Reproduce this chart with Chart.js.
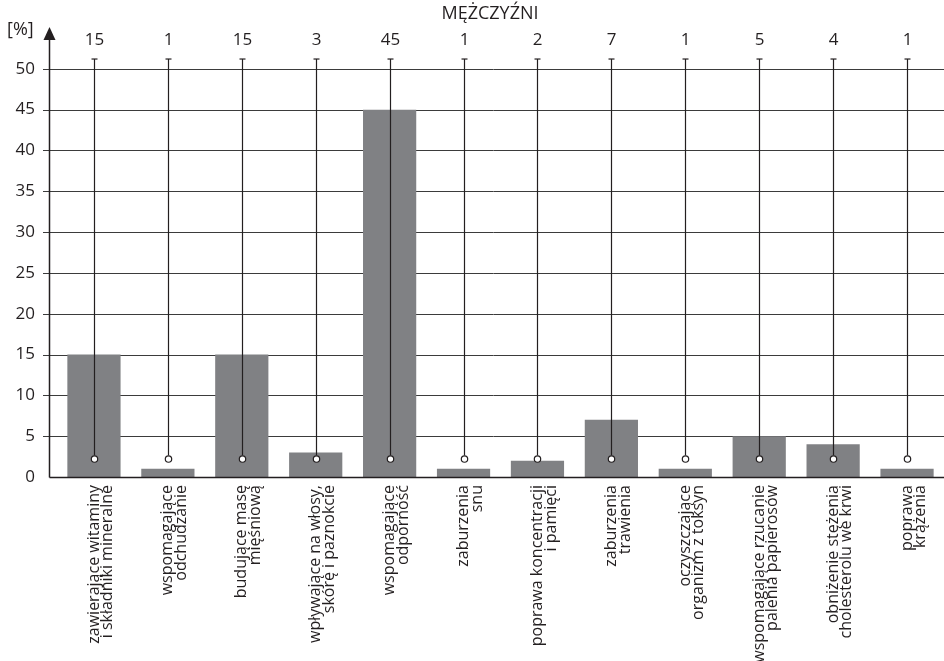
<!DOCTYPE html>
<html>
<head>
<meta charset="utf-8">
<script src="https://cdn.jsdelivr.net/npm/chart.js@4"></script>
<style>
  html, body { margin: 0; padding: 0; background: #fff; }
  #wrap { width: 944px; height: 661px; }
</style>
</head>
<body>
<div id="wrap"><canvas id="c" width="944" height="661"></canvas></div>
<script>
// Categories (two-line labels, drawn rotated under the axis)
const categories = [
  ['zawierające witaminy', 'i składniki mineralne'],
  ['wspomagające', 'odchudzanie'],
  ['budujące masę', 'mięśniową'],
  ['wpływające na włosy,', 'skórę i paznokcie'],
  ['wspomagające', 'odporność'],
  ['zaburzenia', 'snu'],
  ['poprawa koncentracji', 'i pamięci'],
  ['zaburzenia', 'trawienia'],
  ['oczyszczające', 'organizm z toksyn'],
  ['wspomagające rzucanie', 'palenia papierosów'],
  ['obniżenie stężenia', 'cholesterolu we krwi'],
  ['poprawa', 'krążenia']
];

// Share of answers, percent
const values = [15, 1, 15, 3, 45, 1, 2, 7, 1, 5, 4, 1];

// Y axis range and ticks
const yMin = 0;
const yMax = 55;
const yStep = 5;
const yTickMax = 50;

// Stem span (in axis units) for the marker lines above each bar
const stemTop = 51.2;
const stemBase = 2.2;
const valueLabelLevel = 53.5;

const title = 'MĘŻCZYŹNI';
const unitLabel = '[%]';

const FONT = '"Open Sans", "DejaVu Sans", sans-serif';
const INK = '#231f20';

const overlay = {
  id: 'overlay',
  beforeDatasetsDraw(chart) {
    const { ctx, chartArea } = chart;
    const y = chart.scales.y;
    const axisX = chartArea.left - 8;
    ctx.save();
    // horizontal grid lines (behind bars)
    ctx.strokeStyle = '#3b3b3b';
    ctx.lineWidth = 1;
    y.ticks.forEach(t => {
      if (t.value <= 0) return;
      const py = Math.round(y.getPixelForValue(t.value)) + 0.5;
      ctx.beginPath();
      ctx.moveTo(axisX - 6, py);
      ctx.lineTo(chartArea.right, py);
      ctx.stroke();
    });
    ctx.restore();
  },
  afterDatasetsDraw(chart) {
    const { ctx, chartArea } = chart;
    const x = chart.scales.x;
    const y = chart.scales.y;
    const axisX = Math.round(chartArea.left - 8) + 0.5;
    const zeroY = Math.round(y.getPixelForValue(0)) + 0.5;
    ctx.save();

    // x axis line
    ctx.strokeStyle = INK;
    ctx.lineWidth = 1.5;
    ctx.beginPath();
    ctx.moveTo(axisX, zeroY);
    ctx.lineTo(chartArea.right, zeroY);
    ctx.stroke();

    // y axis with arrow head
    const tipY = y.getPixelForValue(yMax) - 1;
    const baseY = tipY + 13;
    ctx.beginPath();
    ctx.moveTo(axisX, zeroY);
    ctx.lineTo(axisX, baseY);
    ctx.stroke();
    ctx.fillStyle = INK;
    ctx.beginPath();
    ctx.moveTo(axisX, tipY);
    ctx.lineTo(axisX - 6, baseY);
    ctx.lineTo(axisX + 6, baseY);
    ctx.closePath();
    ctx.fill();

    // stems with cap and open circle, value labels on top
    const topPx = y.getPixelForValue(stemTop);
    const basePx = y.getPixelForValue(stemBase);
    const labelPx = y.getPixelForValue(valueLabelLevel);
    ctx.font = '17px ' + FONT;
    ctx.textAlign = 'center';
    ctx.textBaseline = 'middle';
    values.forEach((v, i) => {
      const px = Math.round(x.getPixelForValue(i)) + 0.5;
      ctx.strokeStyle = INK;
      ctx.lineWidth = 1.2;
      ctx.beginPath();
      ctx.moveTo(px, topPx);
      ctx.lineTo(px, basePx - 3.5);
      ctx.stroke();
      ctx.beginPath();
      ctx.moveTo(px - 3, topPx);
      ctx.lineTo(px + 3, topPx);
      ctx.stroke();
      ctx.beginPath();
      ctx.arc(px, basePx, 3.2, 0, Math.PI * 2);
      ctx.fillStyle = '#fff';
      ctx.fill();
      ctx.stroke();
      ctx.fillStyle = INK;
      ctx.fillText(String(v), px, labelPx);
    });

    // title and unit
    ctx.font = '18px ' + FONT;
    ctx.fillText(title, 490, 14);
    ctx.textAlign = 'left';
    ctx.fillText(unitLabel, 7, 30);
    ctx.restore();
  }
};

new Chart(document.getElementById('c'), {
  type: 'bar',
  data: {
    labels: categories,
    datasets: [{
      data: values,
      backgroundColor: '#808184',
      borderWidth: 0,
      categoryPercentage: 1,
      barPercentage: 0.72
    }]
  },
  options: {
    responsive: false,
    animation: false,
    devicePixelRatio: 1,
    layout: { padding: { top: 28, right: 0, left: 0, bottom: 0 } },
    plugins: {
      legend: { display: false },
      tooltip: { enabled: false },
      title: { display: false }
    },
    scales: {
      x: {
        grid: { display: false, drawTicks: false },
        border: { display: false },
        ticks: {
          color: INK,
          font: { family: FONT, size: 16, lineHeight: 0.85 },
          minRotation: 90,
          maxRotation: 90,
          autoSkip: false,
          padding: 8
        },
        afterFit(scale) {
          scale.height = 184;
          scale.paddingLeft = 0;
          scale.paddingRight = 0;
        }
      },
      y: {
        min: yMin,
        max: yMax,
        grid: { display: false, drawTicks: false },
        border: { display: false },
        ticks: {
          stepSize: yStep,
          color: INK,
          font: { family: FONT, size: 17 },
          padding: 22
        },
        afterBuildTicks(scale) {
          scale.ticks = scale.ticks.filter(t => t.value <= yTickMax);
        },
        afterFit(scale) {
          scale.width = 57;
          scale.paddingTop = 0;
          scale.paddingBottom = 0;
        }
      }
    }
  },
  plugins: [overlay]
});
</script>
</body>
</html>
